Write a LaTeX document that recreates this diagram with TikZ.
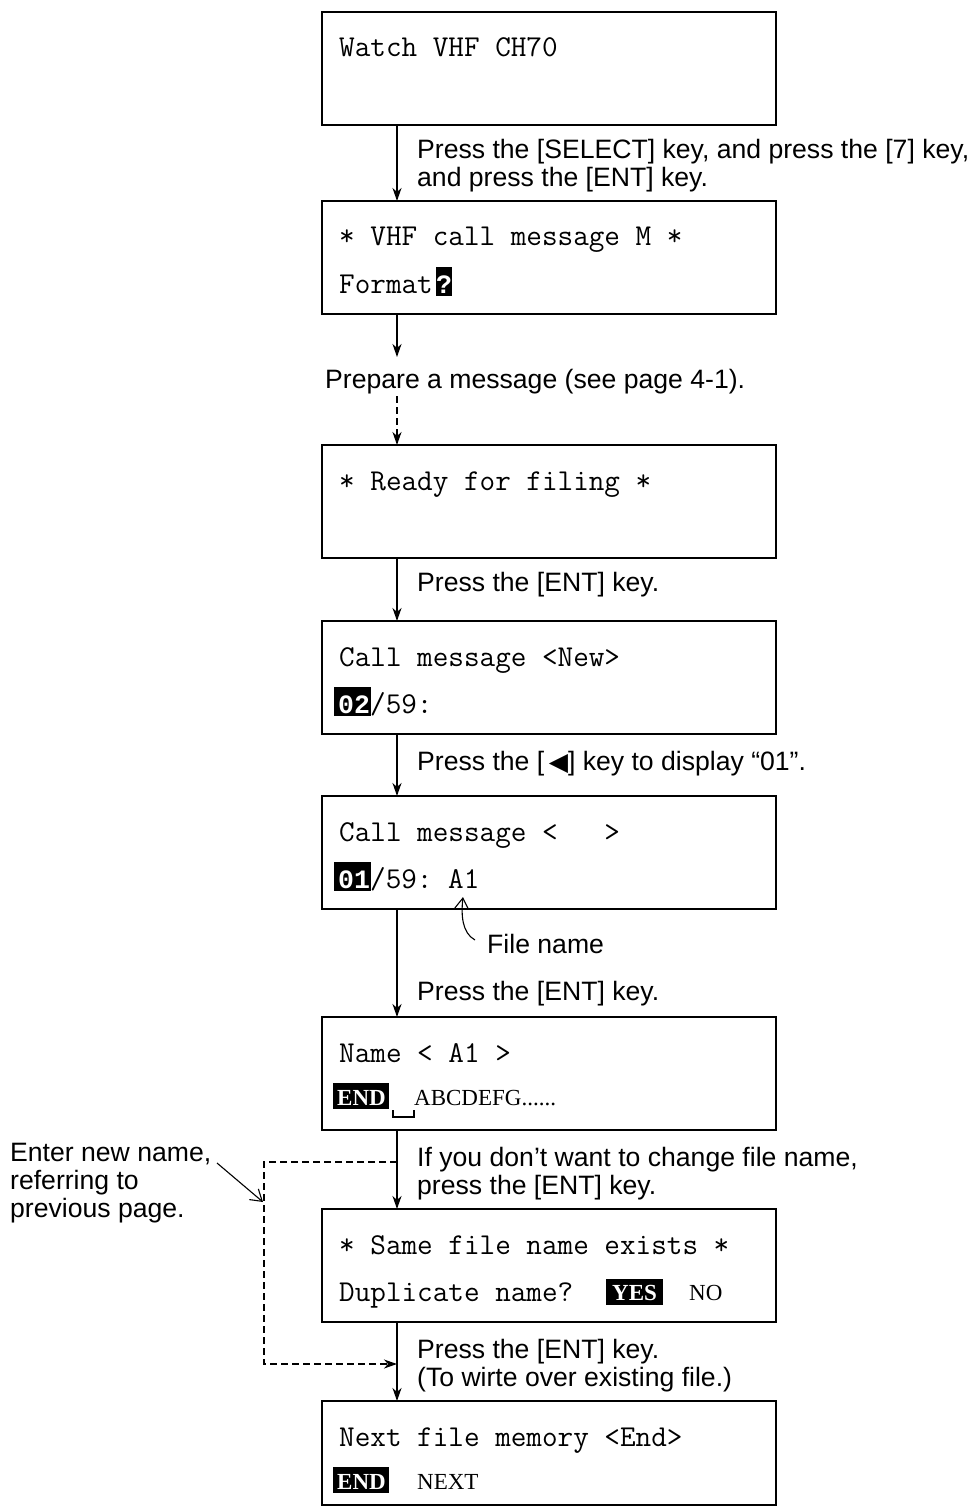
\documentclass[tikz,border=0pt]{standalone}
\usepackage{fontspec}
\setmainfont{Liberation Sans}
\newfontfamily\boldmono{Liberation Mono}
\newfontfamily\serf{Liberation Serif}
\newfontfamily\symf{DejaVu Sans}
\usetikzlibrary{arrows.meta}
\begin{document}
\begin{tikzpicture}[x=1pt,y=-1pt,
  screen/.style={draw,line width=2pt,minimum width=454pt,minimum height=113pt,inner sep=0pt,outer sep=0pt,anchor=north west},
  lcd/.style={anchor=base west,inner sep=0pt,font=\ttfamily\fontsize{30.3}{32}\selectfont},
  hl/.style={anchor=base west,inner sep=0pt,text=white,font=\boldmono\bfseries\fontsize{26.5}{28}\selectfont},
  srf/.style={anchor=base west,inner sep=0pt,font=\serf\fontsize{23}{26}\selectfont},
  srfb/.style={anchor=base west,inner sep=0pt,text=white,font=\serf\bfseries\fontsize{23}{26}\selectfont},
  note/.style={anchor=base west,inner sep=0pt,align=left,font=\fontsize{26.6}{28}\selectfont},
  flow/.style={line width=1.3pt,-{Stealth[length=13pt,width=9pt,inset=4pt]}},
  dflow/.style={flow,dash pattern=on 7pt off 4pt},
  barb/.style={line width=1.1pt,-{Straight Barb[length=11pt,width=14pt]}},
]
\useasboundingbox (0,0) rectangle (977,1506);

% screens
\node[screen] (s1) at (322,12) {};
\node[screen] (s2) at (322,201) {};
\node[screen] (s3) at (322,445) {};
\node[screen] (s4) at (322,621) {};
\node[screen] (s5) at (322,796) {};
\node[screen] (s6) at (322,1017) {};
\node[screen] (s7) at (322,1209) {};
\node[screen,minimum height=104pt] (s8) at (322,1401) {};

% screen texts
\node[lcd] (w1) at (339,57) {Watch VHF CH70};

\node[lcd] (v1) at (339,246) {* VHF call message M *};
\node[lcd] (v2) at (339,293) {Format};
\fill (436,267) rectangle (452,296);
\node[hl] (v3) at (436,293) {?};

\node[lcd] (r1) at (339,490) {* Ready for filing *};

\node[lcd] (c1) at (339,666) {Call message <New>};
\fill (334,687) rectangle (371,716);
\node[hl] (c2) at (338,713) {02};
\node[lcd] (c3) at (370,713) {/59:};

\node[lcd] (d1) at (339,841) {Call message <~~~>};
\fill (334,862) rectangle (371,891);
\node[hl] (d2) at (338,888) {01};
\node[lcd] (d3) at (370,888) {/59:~A1};

\node[lcd] (n1) at (339,1062) {Name < A1 >};
\fill (333,1083) rectangle (389,1109);
\node[srfb] (n2) at (337,1105) {END};
\draw[line width=1.3pt] (393,1110) -- (393,1117) -- (414,1117) -- (414,1110);
\node[srf] (n3) at (414,1105) {ABCDEFG......};

\node[lcd] (p1) at (339,1254) {* Same file name exists *};
\node[lcd] (p2) at (339,1301) {Duplicate name?};
\fill (606,1279) rectangle (663,1305);
\node[srfb] (p3) at (612,1300) {YES};
\node[srf] (p4) at (689,1300) {NO};

\node[lcd] (q1) at (339,1446) {Next file memory <End>};
\fill (333,1467) rectangle (389,1493);
\node[srfb] (q2) at (337,1489) {END};
\node[srf] (q3) at (417,1489) {NEXT};

% notes (base anchor = last line)
\node[note] (t1) at (417,187) {Press the [SELECT] key, and press the [7] key,\\and press the [ENT] key.};
\node[note] (t2) at (325,388) {Prepare a message (see page 4-1).};
\node[note] (t3) at (417,591) {Press the [ENT] key.};
\node[note] (t4) at (417,770) {Press the [\,{\symf\fontsize{25}{26}\selectfont ◀}] key to display “01”.};
\node[note] (t5) at (487,953) {File name};
\node[note] (t6) at (417,1000) {Press the [ENT] key.};
\node[note] (t7) at (417,1194) {If you don’t want to change file name,\\press the [ENT] key.};
\node[note] (t8) at (417,1386) {Press the [ENT] key.\\(To wirte over existing file.)};
\node[note] (t9) at (10,1217) {Enter new name,\\referring to\\previous page.};

% connectors
\coordinate (L) at (397,0);
\draw[flow] (s1.south -| L) -- (s2.north -| L);
\coordinate (pa) at (397,357);
\draw[flow] (s2.south -| L) -- (pa);
\coordinate (pb) at (397,396);
\draw[dflow] (pb) -- (s3.north -| L);
\draw[flow] (s3.south -| L) -- (s4.north -| L);
\draw[flow] (s4.south -| L) -- (s5.north -| L);
\draw[flow] (s5.south -| L) -- (s6.north -| L);
\draw[flow] (s6.south -| L) -- (s7.north -| L);
\draw[flow] (s7.south -| L) -- (s8.north -| L);

% dashed loop
\coordinate (dA) at (397,1162);
\coordinate (dC1) at (264,1162);
\coordinate (dC2) at (264,1364);
\coordinate (dB) at (397,1364);
\draw[dflow] (dA) -- (dC1) -- (dC2) -- (dB);

% annotation arrows
\coordinate (e1) at (217,1163);
\coordinate (e2) at (263,1202);
\draw[barb] (e1) -- (e2);
\coordinate (fa) at (475,940);
\coordinate (fb) at (463,897);
\draw[barb] (fa) .. controls (462,933) and (461,915) .. (fb);
\end{tikzpicture}
\end{document}
